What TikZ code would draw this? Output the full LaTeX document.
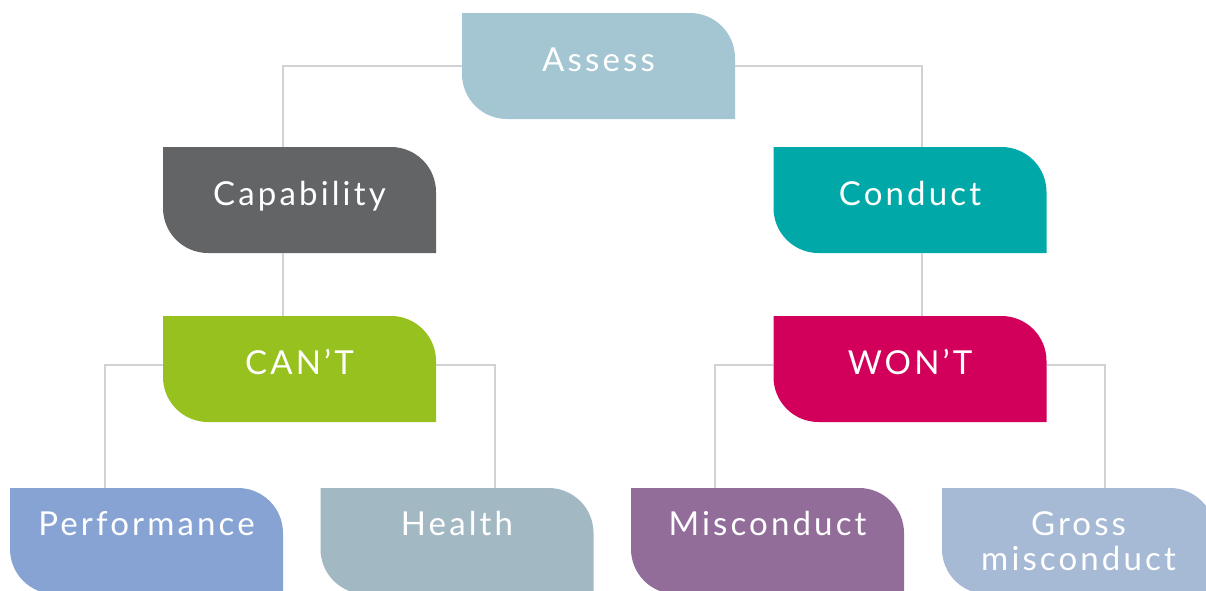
\documentclass[tikz,border=0pt]{standalone}
\usepackage{fontspec}
\newfontfamily\boxfont[LetterSpace=9.5]{Lato}
\definecolor{cAssess}{HTML}{A4C5D2}
\definecolor{cCap}{HTML}{636466}
\definecolor{cCond}{HTML}{00A9A8}
\definecolor{cCant}{HTML}{97C11F}
\definecolor{cWont}{HTML}{D2005A}
\definecolor{cPerf}{HTML}{87A3D4}
\definecolor{cHealth}{HTML}{A2B8C2}
\definecolor{cMisc}{HTML}{926D99}
\definecolor{cGross}{HTML}{A6B9D5}
\definecolor{cLine}{HTML}{D2D2D4}
\tikzset{
  leaf/.style={minimum width=273pt, minimum height=106pt, inner sep=0pt,
    text=white, font=\boxfont\fontsize{33}{35}\selectfont,
    text height=23pt, text depth=12pt,
    path picture={\fill[#1] (path picture bounding box.north west)
      -- ([xshift=-45pt]path picture bounding box.north east)
      arc[start angle=90,end angle=0,radius=45pt]
      -- (path picture bounding box.south east)
      -- ([xshift=45pt]path picture bounding box.south west)
      arc[start angle=270,end angle=180,radius=45pt] -- cycle;}},
  lowrow/.style={text height=23pt, text depth=35pt},
  conn/.style={draw=cLine, line width=1.3pt}
}
\begin{document}
\begin{tikzpicture}[x=1pt,y=1pt]
\clip (0,0) rectangle (1206,-590);
\fill[white] (0,0) rectangle (1206,-590);
% junction coordinates
\coordinate (jL1) at (283,-66);
\coordinate (jR1) at (922,-66);
\coordinate (jL2) at (105,-365);
\coordinate (jR2) at (495,-365);
\coordinate (jL3) at (715,-365);
\coordinate (jR3) at (1105,-365);
% nodes
\node[leaf=cAssess] (assess) at (598.5,-66) {Assess};
\node[leaf=cCap] (cap) at (299.5,-200) {Capability};
\node[leaf=cCond] (cond) at (910,-200) {Conduct};
\node[leaf=cCant] (cant) at (299.5,-369) {CAN’T};
\node[leaf=cWont] (wont) at (910,-369) {WON’T};
\node[leaf=cPerf, lowrow] (perf) at (146.5,-541) {Performance};
\node[leaf=cHealth, lowrow] (health) at (457,-541) {Health};
\node[leaf=cMisc, lowrow] (misc) at (767.5,-541) {Misconduct};
\node[leaf=cGross, lowrow] (gross) at (1078.5,-541)
  {\begin{tabular}[t]{@{}c@{}}Gross\\misconduct\end{tabular}};
% connectors
\draw[conn] (assess.west |- jL1) -- (jL1) -- (jL1 |- cap.north);
\draw[conn] (assess.east |- jR1) -- (jR1) -- (jR1 |- cond.north);
\draw[conn] (cap.south -| jL1) -- (cant.north -| jL1);
\draw[conn] (cond.south -| jR1) -- (wont.north -| jR1);
\draw[conn] (cant.west |- jL2) -- (jL2) -- (jL2 |- perf.north);
\draw[conn] (cant.east |- jR2) -- (jR2) -- (jR2 |- health.north);
\draw[conn] (wont.west |- jL3) -- (jL3) -- (jL3 |- misc.north);
\draw[conn] (wont.east |- jR3) -- (jR3) -- (jR3 |- gross.north);
\end{tikzpicture}
\end{document}
